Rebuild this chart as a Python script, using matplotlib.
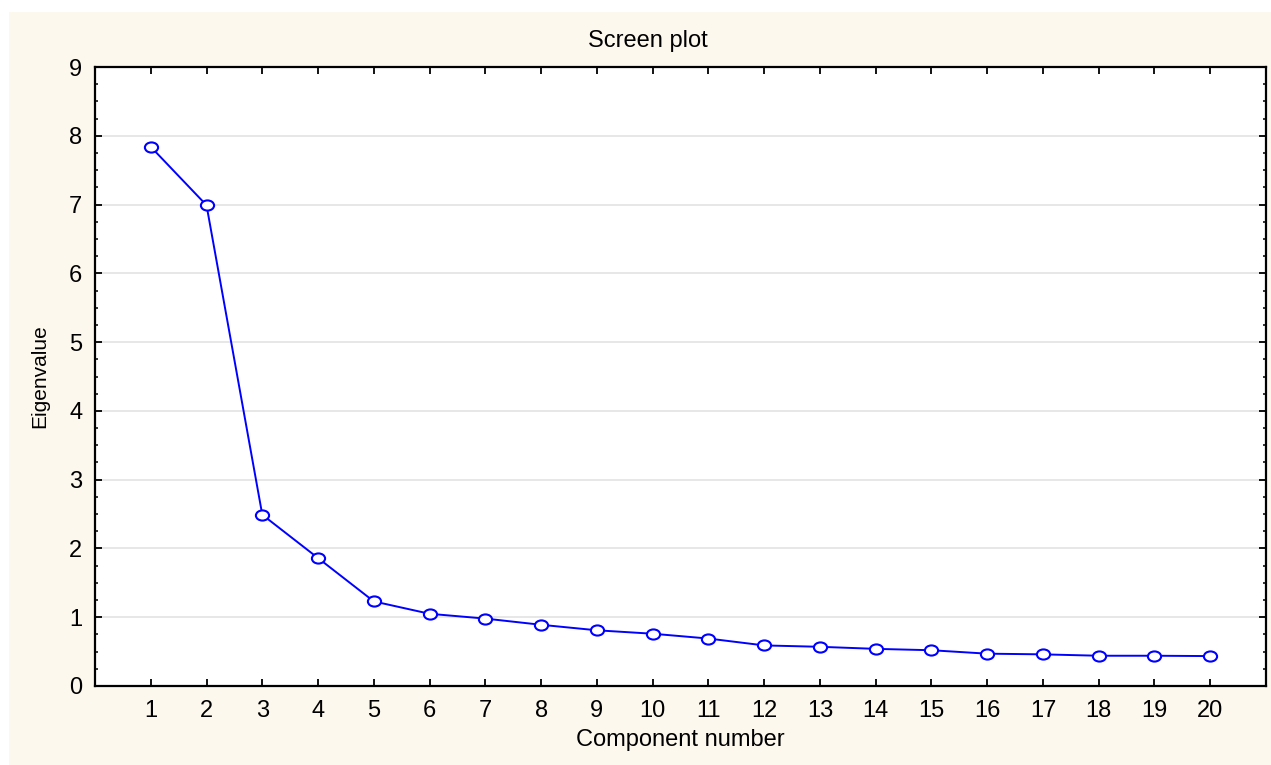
import matplotlib
matplotlib.use("Agg")
import matplotlib.pyplot as plt
import numpy as np
from matplotlib.path import Path
from matplotlib.patches import Rectangle
from matplotlib.transforms import Affine2D
from matplotlib.ticker import MultipleLocator

# eigenvalues
components = list(range(1, 21))
eigenvalues = [7.84, 6.99, 2.49, 1.86, 1.23, 1.05, 0.98, 0.89, 0.81, 0.76,
               0.69, 0.59, 0.57, 0.54, 0.52, 0.47, 0.46, 0.44, 0.44, 0.435]
y_ticks = list(range(0, 10))

plt.rcParams['font.family'] = ['Liberation Sans', 'DejaVu Sans']

W, H = 1271, 765
fig = plt.figure(figsize=(W / 100, H / 100), dpi=100)
fig.patch.set_facecolor("white")
# cream panel behind everything (white strip on top and left)
fig.patches.append(Rectangle((9 / W, 0), 1 - 9 / W, (H - 12) / H,
                             transform=fig.transFigure, facecolor="#fcf8ee",
                             edgecolor="none", zorder=-10))

ax = fig.add_axes([95 / W, (H - 686) / H, (1266 - 95) / W, (686 - 67) / H])
ax.set_facecolor("white")

# slightly wide ellipse marker, like the original
ellipse = Path.unit_circle().transformed(Affine2D().scale(1.3, 1.0))
ax.plot(components, eigenvalues, color="#0000ff", lw=1.4,
        marker=ellipse, markersize=9.5, markerfacecolor="white",
        markeredgecolor="#0000ff", markeredgewidth=1.5, zorder=3)

ax.set_xlim(0, 21)
ax.set_ylim(0, 9)
ax.set_xticks(components)
ax.set_yticks(y_ticks)
ax.yaxis.set_minor_locator(MultipleLocator(0.25))
ax.yaxis.grid(True, color="#e3e3e3", lw=1.2)
ax.set_axisbelow(True)

for s in ax.spines.values():
    s.set_linewidth(1.6)
    s.set_color("black")

ax.tick_params(axis="both", which="major", direction="in", length=5, width=1.3,
               labelsize=17, top=True, right=True, color="black")
ax.tick_params(axis="y", which="minor", direction="in", length=2.5, width=1.1,
               right=True, left=True)
ax.tick_params(axis="x", pad=10)
ax.tick_params(axis="y", pad=9)

ax.set_xlabel("Component number", fontsize=17, va="center")
ax.xaxis.set_label_coords(0.5, -(740 - 686) / (686 - 67))
ax.set_ylabel("Eigenvalue", fontsize=15, va="center")
ax.yaxis.set_label_coords(-(95 - 40) / (1266 - 95), 0.5)

fig.text(648 / W, 1 - 41 / H, "Screen plot", fontsize=17, ha="center", va="center")

fig.savefig("out.png", dpi=100, facecolor=fig.get_facecolor())
